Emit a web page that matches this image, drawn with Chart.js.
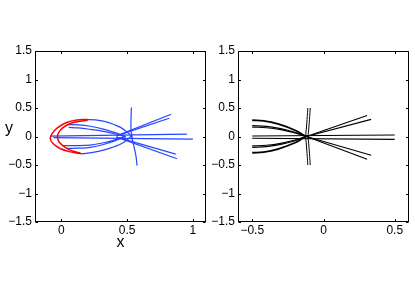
<!DOCTYPE html>
<html><head><meta charset="utf-8">
<script src="https://cdn.jsdelivr.net/npm/chart.js@4.4.1/dist/chart.umd.min.js"></script>
<style>
html,body{margin:0;padding:0;background:#fff;}
body{width:415px;height:284px;position:relative;overflow:hidden;}
canvas{position:absolute;top:0;}
</style></head>
<body>
<canvas id="c1" width="210" height="284" style="left:0"></canvas>
<canvas id="c2" width="205" height="284" style="left:210px"></canvas>
<script>
// ---------- axis ticks ----------
const yTicks = [-1.5, -1, -0.5, 0, 0.5, 1, 1.5];
const leftXTicks = [0, 0.5, 1];
const rightXTicks = [-0.5, 0, 0.5];

// ---------- left panel (blue / red) ----------
const redOuter = [[0.2,0.30],[0.12,0.29],[0.04,0.245],[-0.03,0.15],[-0.07,0.05],[-0.084,-0.03],[-0.065,-0.12],[-0.01,-0.21],[0.07,-0.27],[0.157,-0.305]];
const redInner = [[0.2,0.285],[0.12,0.26],[0.06,0.22],[0.01,0.15],[-0.02,0.07],[-0.03,-0.01],[-0.015,-0.1],[0.03,-0.19],[0.09,-0.26],[0.145,-0.29]];
const blueArcTop = [[0.18,0.295],[0.26,0.29],[0.335,0.26],[0.40,0.21],[0.45,0.16],[0.51,0.06],[0.54,-0.02]];
const blueArcBottom = [[0.157,-0.305],[0.24,-0.28],[0.32,-0.24],[0.40,-0.18],[0.47,-0.11],[0.52,-0.02],[0.54,0.05]];
const blueInnerUp1 = [[0.043,0.21],[0.13,0.205],[0.22,0.18],[0.32,0.13],[0.42,0.06],[0.49,0.0]];
const blueInnerUp2 = [[0.056,0.16],[0.13,0.15],[0.22,0.125],[0.32,0.09],[0.42,0.04],[0.49,-0.005]];
const blueInnerLo1 = [[0.005,-0.16],[0.10,-0.16],[0.22,-0.15],[0.32,-0.11],[0.42,-0.05],[0.49,0.005]];
const blueInnerLo2 = [[0.043,-0.21],[0.13,-0.205],[0.22,-0.19],[0.32,-0.14],[0.42,-0.065],[0.49,0.0]];
const blueHorizA = [[-0.084,0.005],[0.955,0.04]];
const blueHorizB = [[-0.06,-0.02],[1.0,-0.045]];
const blueFanA = [[0.42,0.01],[0.835,0.39]];
const blueFanB = [[0.42,0.01],[0.82,0.32]];
const blueFanC = [[0.42,-0.01],[0.87,-0.31]];
const blueFanD = [[0.42,-0.01],[0.88,-0.39]];
const blueVert = [[0.533,0.51],[0.53,0.3],[0.53,0.1],[0.54,-0.05],[0.555,-0.2],[0.568,-0.35],[0.576,-0.51]];

// ---------- right panel (black) ----------
const kTopOuter = [[-0.5,0.285],[-0.42,0.275],[-0.32,0.22],[-0.2,0.11],[-0.145,0.03],[-0.12,0.0]];
const kTop2 = [[-0.5,0.19],[-0.4,0.177],[-0.3,0.138],[-0.2,0.073],[-0.12,0.0]];
const kTop3 = [[-0.5,0.165],[-0.4,0.154],[-0.3,0.12],[-0.2,0.063],[-0.12,0.0]];
const kBotOuter = [[-0.5,-0.285],[-0.42,-0.275],[-0.32,-0.22],[-0.2,-0.11],[-0.145,-0.03],[-0.12,0.0]];
const kBot2 = [[-0.5,-0.19],[-0.4,-0.177],[-0.3,-0.138],[-0.2,-0.073],[-0.12,0.0]];
const kBot3 = [[-0.5,-0.165],[-0.4,-0.154],[-0.3,-0.12],[-0.2,-0.063],[-0.12,0.0]];
const kHorizA = [[-0.5,0.01],[0.5,0.027]];
const kHorizB = [[-0.5,-0.03],[0.5,-0.05]];
const kFanA = [[-0.12,0.0],[0.306,0.37]];
const kFanB = [[-0.12,0.0],[0.334,0.30]];
const kFanC = [[-0.12,0.0],[0.306,-0.40]];
const kFanD = [[-0.12,0.0],[0.334,-0.33]];
const kVertA = [[-0.11,0.5],[-0.114,0.35],[-0.12,0.15],[-0.125,0.0],[-0.12,-0.15],[-0.114,-0.35],[-0.11,-0.5]];
const kVertB = [[-0.093,0.5],[-0.097,0.35],[-0.103,0.15],[-0.108,0.0],[-0.103,-0.15],[-0.097,-0.35],[-0.093,-0.5]];

Chart.defaults.font.family = "'Liberation Sans', Arial, Helvetica, sans-serif";
Chart.defaults.color = '#000';

function line(pts, color, width, tension) {
  return {
    data: pts.map(p => ({x: p[0], y: p[1]})),
    showLine: true, borderColor: color, borderWidth: width,
    pointRadius: 0, fill: false, tension: tension
  };
}
const fmt = v => (v < 0 ? '\u2212' : '') + String(Math.abs(v));

const frame = {
  id: 'frame',
  afterDatasetsDraw(chart, args, opts) {
    const {ctx, chartArea: a, scales} = chart;
    const x = scales.x, y = scales.y;
    ctx.save();
    ctx.strokeStyle = '#000';
    ctx.lineWidth = 1;
    const L = Math.round(a.left) + 0.5, R = Math.round(a.right) - 0.5;
    const T = Math.round(a.top) + 0.5, B = Math.round(a.bottom) - 0.5;
    ctx.strokeRect(L, T, R - L, B - T);
    const tl = 2.5;
    ctx.beginPath();
    x.ticks.forEach(t => {
      const px = Math.round(x.getPixelForValue(t.value)) + 0.5;
      ctx.moveTo(px, B); ctx.lineTo(px, B - tl);
      ctx.moveTo(px, T); ctx.lineTo(px, T + tl);
    });
    y.ticks.forEach(t => {
      const py = Math.round(y.getPixelForValue(t.value)) + 0.5;
      ctx.moveTo(L, py); ctx.lineTo(L + tl, py);
      ctx.moveTo(R, py); ctx.lineTo(R - tl, py);
    });
    ctx.stroke();
    ctx.fillStyle = '#000';
    ctx.font = "16px 'Liberation Sans', Arial, sans-serif";
    ctx.textAlign = 'center';
    ctx.textBaseline = 'middle';
    if (opts.xLabel) ctx.fillText(opts.xLabel, (a.left + a.right) / 2, a.bottom + 21);
    if (opts.yLabel) ctx.fillText(opts.yLabel, a.left - 26, (a.top + a.bottom) / 2 - 8);
    ctx.restore();
  }
};

function makeChart(id, datasets, xmin, xmax, xticks, yWidth, padRight, labels) {
  return new Chart(document.getElementById(id), {
    type: 'scatter',
    data: {datasets},
    plugins: [frame],
    options: {
      responsive: false, animation: false,
      layout: {padding: {top: 51, right: padRight, left: 0, bottom: 0}},
      plugins: {legend: {display: false}, tooltip: {enabled: false}, frame: labels},
      scales: {
        x: {
          type: 'linear', min: xmin, max: xmax,
          grid: {display: false, drawTicks: false}, border: {display: false},
          afterBuildTicks: s => { s.ticks = xticks.map(v => ({value: v})); },
          ticks: {padding: 1, font: {size: 12}, maxRotation: 0, callback: fmt},
          afterFit: s => { s.height = 62; }
        },
        y: {
          type: 'linear', min: -1.5, max: 1.5,
          grid: {display: false, drawTicks: false}, border: {display: false},
          afterBuildTicks: s => { s.ticks = yTicks.map(v => ({value: v})); },
          ticks: {padding: 3, font: {size: 12}, callback: fmt},
          afterFit: s => { s.width = yWidth; }
        }
      }
    }
  });
}

const B = 'rgb(40,70,255)', RD = 'rgb(255,0,0)', K = '#000';
makeChart('c1', [
  line(redOuter, RD, 1.5, 0.4),
  line(redInner, RD, 1.5, 0.4),
  line(blueArcTop, B, 1.2, 0.4),
  line(blueArcBottom, B, 1.2, 0.4),
  line(blueInnerUp1, B, 1.2, 0.4),
  line(blueInnerUp2, B, 1.2, 0.4),
  line(blueInnerLo1, B, 1.2, 0.4),
  line(blueInnerLo2, B, 1.2, 0.4),
  line(blueHorizA, B, 1.2, 0),
  line(blueHorizB, B, 1.2, 0),
  line(blueFanA, B, 1.2, 0),
  line(blueFanB, B, 1.2, 0),
  line(blueFanC, B, 1.2, 0),
  line(blueFanD, B, 1.2, 0),
  line(blueVert, B, 1.2, 0.4)
], -0.2, 1.1, leftXTicks, 35, 4, {xLabel: 'x', yLabel: 'y'});

makeChart('c2', [
  line(kTopOuter, K, 1.8, 0.4),
  line(kTop2, K, 1.1, 0.4),
  line(kTop3, K, 1.1, 0.4),
  line(kBotOuter, K, 1.8, 0.4),
  line(kBot2, K, 1.1, 0.4),
  line(kBot3, K, 1.1, 0.4),
  line(kHorizA, K, 1.1, 0),
  line(kHorizB, K, 1.1, 0),
  line(kFanA, K, 1.1, 0),
  line(kFanB, K, 1.1, 0),
  line(kFanC, K, 1.1, 0),
  line(kFanD, K, 1.1, 0),
  line(kVertA, K, 1.0, 0.4),
  line(kVertB, K, 1.0, 0.4)
], -0.6, 0.6, rightXTicks, 28, 6, {});
</script>
</body></html>
